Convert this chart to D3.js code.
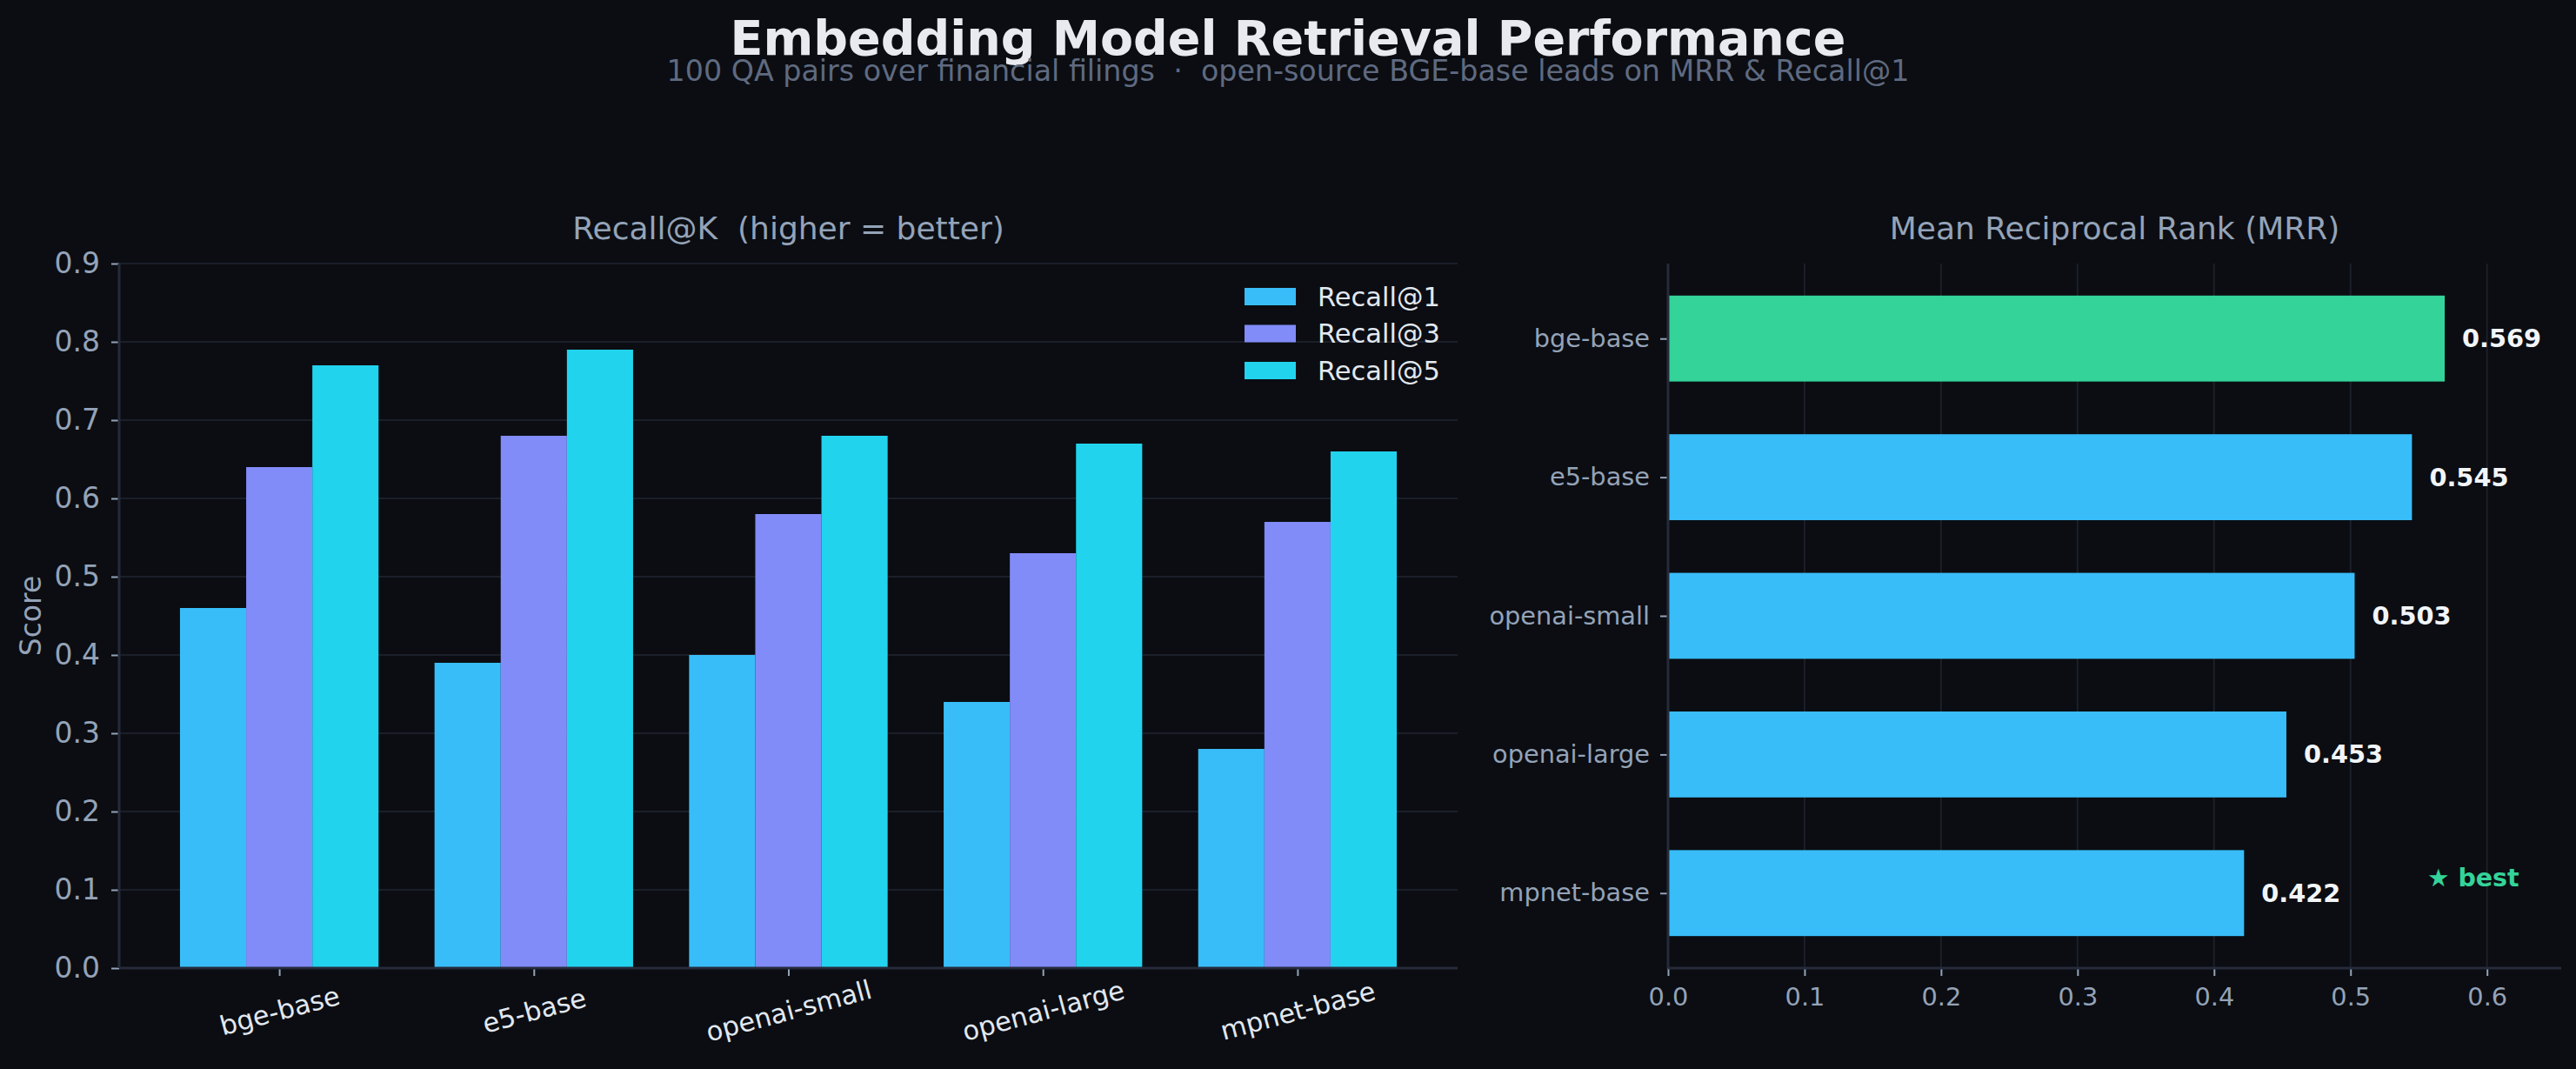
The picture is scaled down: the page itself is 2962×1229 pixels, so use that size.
<!DOCTYPE html>
<html>
<head>
<meta charset="utf-8">
<script src="https://cdn.jsdelivr.net/npm/d3@7"></script>
<style>
  body { margin: 0; background: #0b0d12; }
  text { font-family: 'DejaVu Sans', sans-serif; }
</style>
</head>
<body>
<svg id="chart"></svg>
<script>
const width = 2962;
const height = 1229;

const models = ['bge-base', 'e5-base', 'openai-small', 'openai-large', 'mpnet-base'];
const recall1 = [0.46, 0.39, 0.40, 0.34, 0.28];
const recall3 = [0.64, 0.68, 0.58, 0.53, 0.57];
const recall5 = [0.77, 0.79, 0.68, 0.67, 0.66];
const mrr = [0.569, 0.545, 0.503, 0.453, 0.422];
const recallTicks = [0, 0.1, 0.2, 0.3, 0.4, 0.5, 0.6, 0.7, 0.8, 0.9];
const mrrTicks = [0, 0.1, 0.2, 0.3, 0.4, 0.5, 0.6];
const seriesNames = ['Recall@1', 'Recall@3', 'Recall@5'];

const colors = ['#38bdf8', '#818cf8', '#22d3ee'];
const bestColor = '#34d399';
const gridColor = '#1b1f29';
const spineColor = '#262b3a';
const mutedText = '#94a3b8';
const lightText = '#e2e8f0';

const barWidth = 0.26;
const hBarHeight = 0.62;

const svg = d3.select('#chart')
    .attr('width', width)
    .attr('height', height)
    .style('background', '#0b0d12');

// figure titles
svg.append('text')
    .attr('x', width / 2)
    .attr('y', 63)
    .attr('text-anchor', 'middle')
    .attr('font-size', 55.5)
    .attr('font-weight', 'bold')
    .attr('fill', '#e8eaf0')
    .text('Embedding Model Retrieval Performance');

svg.append('text')
    .attr('x', width / 2)
    .attr('y', 93)
    .attr('text-anchor', 'middle')
    .attr('font-size', 33.3)
    .attr('fill', '#5f6a80')
    .style('white-space', 'pre')
    .text('100 QA pairs over financial filings  \u00b7  open-source BGE-base leads on MRR & Recall@1');

function styleAxis(g, fontSize, textColor) {
    g.select('.domain').remove();
    g.selectAll('.tick line').attr('stroke', mutedText).attr('stroke-width', 2);
    g.selectAll('.tick text')
        .attr('fill', textColor)
        .attr('font-size', fontSize)
        .attr('font-family', 'DejaVu Sans, sans-serif');
}

// ---------- left: Recall@K grouped bars ----------
const L = { x0: 137, x1: 1676, y0: 303, y1: 1113 };

const xL = d3.scaleLinear()
    .domain([-0.39 - 0.239, 4.39 + 0.239])
    .range([L.x0, L.x1]);

const yL = d3.scaleLinear()
    .domain([0, 0.9])
    .range([L.y1, L.y0]);

const left = svg.append('g');

// horizontal grid
left.selectAll('line.grid')
    .data(recallTicks)
    .join('line')
    .attr('x1', L.x0)
    .attr('x2', L.x1)
    .attr('y1', d => yL(d))
    .attr('y2', d => yL(d))
    .attr('stroke', gridColor)
    .attr('stroke-width', 2);

const series = [recall1, recall3, recall5];
series.forEach((values, s) => {
    left.append('g')
        .selectAll('rect')
        .data(values)
        .join('rect')
        .attr('x', (d, i) => xL(i + (s - 1) * barWidth - barWidth / 2))
        .attr('width', xL(barWidth) - xL(0))
        .attr('y', d => yL(d))
        .attr('height', d => yL(0) - yL(d))
        .attr('fill', colors[s]);
});

left.append('g')
    .attr('transform', `translate(${L.x0},0)`)
    .call(d3.axisLeft(yL).tickValues(recallTicks).tickFormat(d3.format('.1f')).tickSize(9).tickPadding(13))
    .call(g => styleAxis(g, 33, mutedText));

left.append('g')
    .attr('transform', `translate(0,${L.y1})`)
    .call(d3.axisBottom(xL).tickValues(d3.range(models.length)).tickFormat(i => models[i]).tickSize(9))
    .call(g => styleAxis(g, 30.5, lightText))
    .call(g => g.selectAll('.tick text')
        .attr('y', 0)
        .attr('dy', '0.35em')
        .attr('text-anchor', 'middle')
        .attr('transform', 'translate(0,49) rotate(-15)'));

// spines
left.append('line')
    .attr('x1', L.x0).attr('x2', L.x0)
    .attr('y1', L.y0).attr('y2', L.y1)
    .attr('stroke', spineColor).attr('stroke-width', 3);
left.append('line')
    .attr('x1', L.x0).attr('x2', L.x1)
    .attr('y1', L.y1).attr('y2', L.y1)
    .attr('stroke', spineColor).attr('stroke-width', 3);

left.append('text')
    .attr('x', (L.x0 + L.x1) / 2)
    .attr('y', 275)
    .attr('text-anchor', 'middle')
    .attr('font-size', 36)
    .attr('fill', mutedText)
    .style('white-space', 'pre')
    .text('Recall@K  (higher = better)');

left.append('text')
    .attr('transform', `translate(35,${(L.y0 + L.y1) / 2}) rotate(-90)`)
    .attr('text-anchor', 'middle')
    .attr('dominant-baseline', 'central')
    .attr('font-size', 33)
    .attr('fill', mutedText)
    .text('Score');

// legend
const legend = left.append('g')
    .attr('transform', 'translate(1431,341)');
const legendItem = legend.selectAll('g')
    .data(seriesNames)
    .join('g')
    .attr('transform', (d, i) => `translate(0,${i * 42.5})`);
legendItem.append('rect')
    .attr('y', -10)
    .attr('width', 59)
    .attr('height', 20)
    .attr('fill', (d, i) => colors[i]);
legendItem.append('text')
    .attr('x', 84)
    .attr('dominant-baseline', 'central')
    .attr('font-size', 30.5)
    .attr('fill', lightText)
    .text(d => d);

// ---------- right: MRR horizontal bars ----------
const R = { x0: 1918, x1: 2945, y0: 303, y1: 1113 };

const xR = d3.scaleLinear()
    .domain([0, d3.max(mrr) * 1.15])
    .range([R.x0, R.x1]);

const yMargin = 0.05 * (models.length - 1 + hBarHeight);
const yR = d3.scaleLinear()
    .domain([-hBarHeight / 2 - yMargin, models.length - 1 + hBarHeight / 2 + yMargin])
    .range([R.y0, R.y1]);

const right = svg.append('g');

right.selectAll('line.grid')
    .data(mrrTicks)
    .join('line')
    .attr('x1', d => xR(d))
    .attr('x2', d => xR(d))
    .attr('y1', R.y0)
    .attr('y2', R.y1)
    .attr('stroke', gridColor)
    .attr('stroke-width', 2);

const bestIndex = mrr.indexOf(d3.max(mrr));

right.append('g')
    .selectAll('rect')
    .data(mrr)
    .join('rect')
    .attr('x', xR(0))
    .attr('width', d => xR(d) - xR(0))
    .attr('y', (d, i) => yR(i - hBarHeight / 2))
    .attr('height', yR(hBarHeight) - yR(0))
    .attr('fill', (d, i) => i === bestIndex ? bestColor : colors[0]);

// value labels
right.append('g')
    .selectAll('text')
    .data(mrr)
    .join('text')
    .attr('x', d => xR(d) + 20)
    .attr('y', (d, i) => yR(i))
    .attr('dominant-baseline', 'central')
    .attr('font-size', 28.8)
    .attr('font-weight', 'bold')
    .attr('fill', '#f1f5f9')
    .text(d => d.toFixed(3));

right.append('g')
    .attr('transform', `translate(${R.x0},0)`)
    .call(d3.axisLeft(yR).tickValues(d3.range(models.length)).tickFormat(i => models[i]).tickSize(9).tickPadding(12))
    .call(g => styleAxis(g, 28.8, mutedText));

right.append('g')
    .attr('transform', `translate(0,${R.y1})`)
    .call(d3.axisBottom(xR).tickValues(mrrTicks).tickFormat(d3.format('.1f')).tickSize(9).tickPadding(14))
    .call(g => styleAxis(g, 28.8, mutedText));

right.append('line')
    .attr('x1', R.x0).attr('x2', R.x0)
    .attr('y1', R.y0).attr('y2', R.y1)
    .attr('stroke', spineColor).attr('stroke-width', 3);
right.append('line')
    .attr('x1', R.x0).attr('x2', R.x1)
    .attr('y1', R.y1).attr('y2', R.y1)
    .attr('stroke', spineColor).attr('stroke-width', 3);

right.append('text')
    .attr('x', (R.x0 + R.x1) / 2)
    .attr('y', 275)
    .attr('text-anchor', 'middle')
    .attr('font-size', 36)
    .attr('fill', mutedText)
    .text('Mean Reciprocal Rank (MRR)');

// "best" note in axes fraction
right.append('text')
    .attr('x', R.x0 + 0.953 * (R.x1 - R.x0))
    .attr('y', R.y1 - 0.116 * (R.y1 - R.y0))
    .attr('text-anchor', 'end')
    .attr('font-size', 28.5)
    .attr('font-weight', 'bold')
    .attr('fill', bestColor)
    .text('\u2605 best');
</script>
</body>
</html>
